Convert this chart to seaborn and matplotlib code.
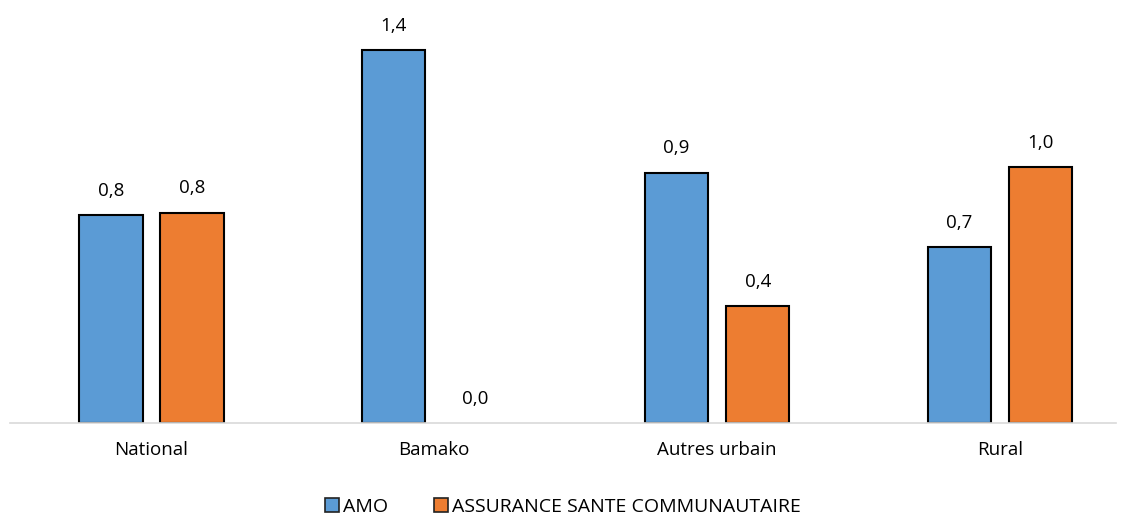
import pandas as pd
import matplotlib
matplotlib.use("Agg")
import matplotlib.pyplot as plt
import seaborn as sns

zones = ["National", "Bamako", "Autres urbain", "Rural"]
amo = [0.78, 1.40, 0.94, 0.66]
asc = [0.79, 0.0, 0.44, 0.96]
series = ["AMO", "ASSURANCE SANTE COMMUNAUTAIRE"]
colors = ["#5B9BD5", "#ED7D31"]

df = pd.DataFrame({
    "zone": zones * 2,
    "valeur": amo + asc,
    "serie": [series[0]] * 4 + [series[1]] * 4,
})

sns.set_style("white")
plt.rcParams["font.family"] = ["Open Sans", "DejaVu Sans"]
plt.rcParams["text.color"] = "black"
plt.rcParams["xtick.color"] = "black"

fig = plt.figure(figsize=(11.26, 5.16), dpi=100)
ax = fig.add_axes([10 / 1126, 0.180, 1106 / 1126, 0.800])

sns.barplot(data=df, x="zone", y="valeur", hue="serie", order=zones,
            hue_order=series, palette=colors, saturation=1, width=0.574, gap=0.22,
            edgecolor="black", linewidth=1.5, ax=ax)

# pas de contour pour les barres nulles
for p in ax.patches:
    if p.get_height() == 0:
        p.set_linewidth(0)

for cont in ax.containers:
    ax.bar_label(cont, labels=[f"{v:.1f}".replace(".", ",") for v in cont.datavalues],
                 padding=11, fontsize=13.5)

ax.set_xlim(-0.5, 3.41)
ax.set_ylim(0, 1.55)
ax.set_yticks([])
ax.set_xlabel("")
ax.set_ylabel("")
for s in ["top", "right", "left"]:
    ax.spines[s].set_visible(False)
ax.spines["bottom"].set_color("#D9D9D9")
ax.spines["bottom"].set_linewidth(1.2)
ax.tick_params(axis="x", length=0, labelsize=13.5, pad=13)

handles, labels = ax.get_legend_handles_labels()
leg = ax.legend(handles, labels, loc="center", bbox_to_anchor=(0.5, 1 - 507 / 516),
                bbox_transform=fig.transFigure, ncol=2, frameon=False,
                fontsize=14, handlelength=0.7, handleheight=0.7,
                handletextpad=0.2, columnspacing=2.4)
for h in leg.legend_handles:
    h.set_edgecolor("#222222")
    h.set_linewidth(1.2)

fig.savefig("out.png", dpi=100)
